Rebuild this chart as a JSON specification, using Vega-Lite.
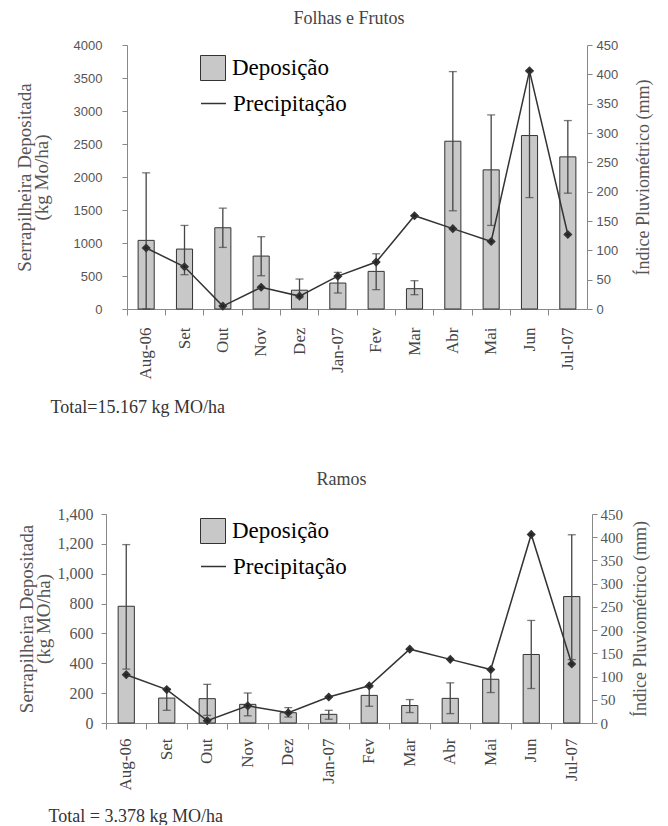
{
  "$schema": "https://vega.github.io/schema/vega-lite/v6.json",
  "padding": {"left": 15, "top": 10, "right": 5, "bottom": 0},
  "background": "white",
  "config": {"view": {"stroke": null}, "font": "Liberation Serif"},
  "spacing": 55,
  "resolve": {"scale": {"fill": "independent", "stroke": "independent"}},
  "vconcat": [
    {
      "title": {"text": "Folhas e Frutos", "font": "Liberation Serif", "fontSize": 18, "fontWeight": "normal", "color": "#444", "offset": 11, "dx": -8},
      "width": 460,
      "height": 264,
      "data": {"values": [
        {"mes": "Aug-06", "dep": 1040, "lo": 0, "hi": 2063, "prec": 104},
        {"mes": "Set", "dep": 908, "lo": 520, "hi": 1266, "prec": 72},
        {"mes": "Out", "dep": 1231, "lo": 933, "hi": 1528, "prec": 5},
        {"mes": "Nov", "dep": 802, "lo": 504, "hi": 1095, "prec": 37},
        {"mes": "Dez", "dep": 285, "lo": 170, "hi": 454, "prec": 22},
        {"mes": "Jan-07", "dep": 393, "lo": 242, "hi": 555, "prec": 56},
        {"mes": "Fev", "dep": 570, "lo": 293, "hi": 837, "prec": 80},
        {"mes": "Mar", "dep": 308, "lo": 217, "hi": 429, "prec": 159},
        {"mes": "Abr", "dep": 2542, "lo": 1488, "hi": 3597, "prec": 137},
        {"mes": "Mai", "dep": 2108, "lo": 1266, "hi": 2941, "prec": 115},
        {"mes": "Jun", "dep": 2628, "lo": 1688, "hi": 3597, "prec": 406},
        {"mes": "Jul-07", "dep": 2305, "lo": 1755, "hi": 2855, "prec": 127}
      ]},
      "encoding": {
        "x": {"field": "mes", "type": "nominal", "sort": null,
          "scale": {"paddingInner": 0, "paddingOuter": 0},
          "axis": {"labelAngle": -90, "labelFont": "Liberation Serif", "labelFontSize": 17, "labelColor": "#444",
            "bandPosition": 0, "tickSize": 6, "labelPadding": 12, "domainColor": "#888", "tickColor": "#888",
            "title": "Total=15.167 kg MO/ha", "titleFont": "Liberation Serif", "titleFontSize": 18, "titleFontWeight": "normal",
            "titleColor": "#333", "titleAnchor": "start", "titleAlign": "left", "titleX": -77, "titleY": 103, "titleBaseline": "alphabetic"}}
      },
      "layer": [
        {"mark": {"type": "bar", "width": {"band": 0.42}, "stroke": "#333", "strokeWidth": 1},
         "encoding": {
           "y": {"field": "dep", "type": "quantitative", "scale": {"domain": [0, 4000]},
             "axis": {"orient": "left", "title": ["Serrapilheira Depositada", "(kg Mo/ha)"], "titleFont": "Liberation Serif", "titleFontSize": 19,
               "titleFontWeight": "normal", "titleColor": "#555", "titlePadding": 22, "titleLineHeight": 17,
               "labelFont": "Liberation Sans", "labelFontSize": 13, "labelColor": "#555",
               "values": [0, 500, 1000, 1500, 2000, 2500, 3000, 3500, 4000], "format": "d",
               "tickSize": 5, "labelPadding": 20, "grid": false, "domainColor": "#888", "tickColor": "#888"}},
           "fill": {"datum": "Deposição", "type": "nominal", "scale": {"range": ["#c8c8c8"]},
             "legend": {"orient": "none", "legendX": 73, "legendY": 10, "title": null, "symbolType": "square",
               "labelFont": "Liberation Serif", "labelFontSize": 23, "labelColor": "#000", "symbolSize": 625,
               "symbolStrokeColor": "#333", "symbolStrokeWidth": 1, "labelOffset": 6, "labelLimit": 300}}
         }},
        {"mark": {"type": "rule", "color": "#444", "strokeWidth": 1.3},
         "encoding": {"y": {"field": "lo", "type": "quantitative", "scale": {"domain": [0, 4000]}, "axis": null}, "y2": {"field": "hi"}}},
        {"mark": {"type": "tick", "color": "#444", "thickness": 1.3, "size": 8},
         "encoding": {"y": {"field": "hi", "type": "quantitative", "scale": {"domain": [0, 4000]}, "axis": null}}},
        {"mark": {"type": "tick", "color": "#444", "thickness": 1.3, "size": 8},
         "encoding": {"y": {"field": "lo", "type": "quantitative", "scale": {"domain": [0, 4000]}, "axis": null}}},
        {"mark": {"type": "line", "strokeWidth": 1.5, "point": {"shape": "diamond", "size": 40, "filled": true, "fill": "#222"}},
         "encoding": {
           "y": {"field": "prec", "type": "quantitative", "scale": {"domain": [0, 450]},
             "axis": {"orient": "right", "title": "Índice Pluviométrico (mm)", "titleFont": "Liberation Serif", "titleFontSize": 18,
               "titleFontWeight": "normal", "titleColor": "#555", "titleAngle": 270, "titlePadding": 35,
               "labelFont": "Liberation Sans", "labelFontSize": 13, "labelColor": "#555",
               "values": [0, 50, 100, 150, 200, 250, 300, 350, 400, 450],
               "tickSize": 5, "labelPadding": 4, "grid": false, "domainColor": "#888", "tickColor": "#888"}},
           "stroke": {"datum": "Precipitação", "type": "nominal", "scale": {"range": ["#333333"]},
             "legend": {"orient": "none", "legendX": 73, "legendY": 45, "title": null, "symbolType": "stroke",
               "labelFont": "Liberation Serif", "labelFontSize": 23, "labelColor": "#000", "symbolSize": 625,
               "symbolStrokeWidth": 1.5, "labelOffset": 6, "labelLimit": 300}}
         }}
      ],
      "resolve": {"scale": {"y": "independent"}}
    },
    {
      "title": {"text": "Ramos", "font": "Liberation Serif", "fontSize": 18, "fontWeight": "normal", "color": "#444", "offset": 17, "dx": -18},
      "width": 465,
      "height": 209,
      "data": {"values": [
        {"mes": "Aug-06", "dep": 782, "lo": 361, "hi": 1195, "prec": 104},
        {"mes": "Set", "dep": 167, "lo": 85, "hi": 230, "prec": 72},
        {"mes": "Out", "dep": 163, "lo": 51, "hi": 259, "prec": 5},
        {"mes": "Nov", "dep": 125, "lo": 48, "hi": 201, "prec": 37},
        {"mes": "Dez", "dep": 69, "lo": 40, "hi": 103, "prec": 22},
        {"mes": "Jan-07", "dep": 58, "lo": 25, "hi": 85, "prec": 56},
        {"mes": "Fev", "dep": 185, "lo": 112, "hi": 241, "prec": 80},
        {"mes": "Mar", "dep": 117, "lo": 70, "hi": 157, "prec": 159},
        {"mes": "Abr", "dep": 165, "lo": 63, "hi": 269, "prec": 137},
        {"mes": "Mai", "dep": 293, "lo": 204, "hi": 358, "prec": 115},
        {"mes": "Jun", "dep": 459, "lo": 231, "hi": 687, "prec": 406},
        {"mes": "Jul-07", "dep": 847, "lo": 425, "hi": 1261, "prec": 127}
      ]},
      "encoding": {
        "x": {"field": "mes", "type": "nominal", "sort": null,
          "scale": {"paddingInner": 0, "paddingOuter": 0, "range": [-21, 465]},
          "axis": {"labelAngle": -90, "labelFont": "Liberation Serif", "labelFontSize": 17, "labelColor": "#444",
            "bandPosition": 0, "tickSize": 6, "labelPadding": 9, "domainColor": "#888", "tickColor": "#888",
            "title": "Total = 3.378 kg MO/ha", "titleFont": "Liberation Serif", "titleFontSize": 18, "titleFontWeight": "normal",
            "titleColor": "#333", "titleAnchor": "start", "titleAlign": "left", "titleX": -79, "titleY": 98, "titleBaseline": "alphabetic"}}
      },
      "layer": [
        {"mark": {"type": "bar", "width": {"band": 0.4}, "stroke": "#333", "strokeWidth": 1},
         "encoding": {
           "y": {"field": "dep", "type": "quantitative", "scale": {"domain": [0, 1400]},
             "axis": {"orient": "left", "offset": 21, "title": ["Serrapilheira Depositada", "(kg MO/ha)"], "titleFont": "Liberation Serif", "titleFontSize": 19,
               "titleFontWeight": "normal", "titleColor": "#555", "titlePadding": 4, "titleLineHeight": 17,
               "labelFont": "Liberation Serif", "labelFontSize": 16, "labelColor": "#555",
               "values": [0, 200, 400, 600, 800, 1000, 1200, 1400], "format": ",d",
               "tickSize": 5, "labelPadding": 8, "grid": false, "domainColor": "#888", "tickColor": "#888"}},
           "fill": {"datum": "Deposição", "type": "nominal", "scale": {"range": ["#c8c8c8"]},
             "legend": {"orient": "none", "legendX": 73, "legendY": 4, "title": null, "symbolType": "square",
               "labelFont": "Liberation Serif", "labelFontSize": 23, "labelColor": "#000", "symbolSize": 625,
               "symbolStrokeColor": "#333", "symbolStrokeWidth": 1, "labelOffset": 6, "labelLimit": 300}}
         }},
        {"mark": {"type": "rule", "color": "#444", "strokeWidth": 1.3},
         "encoding": {"y": {"field": "lo", "type": "quantitative", "scale": {"domain": [0, 1400]}, "axis": null}, "y2": {"field": "hi"}}},
        {"mark": {"type": "tick", "color": "#444", "thickness": 1.3, "size": 8},
         "encoding": {"y": {"field": "hi", "type": "quantitative", "scale": {"domain": [0, 1400]}, "axis": null}}},
        {"mark": {"type": "tick", "color": "#444", "thickness": 1.3, "size": 8},
         "encoding": {"y": {"field": "lo", "type": "quantitative", "scale": {"domain": [0, 1400]}, "axis": null}}},
        {"mark": {"type": "line", "strokeWidth": 1.5, "point": {"shape": "diamond", "size": 40, "filled": true, "fill": "#222"}},
         "encoding": {
           "y": {"field": "prec", "type": "quantitative", "scale": {"domain": [0, 450]},
             "axis": {"orient": "right", "title": "Índice Pluviométrico (mm)", "titleFont": "Liberation Serif", "titleFontSize": 18,
               "titleFontWeight": "normal", "titleColor": "#555", "titleAngle": 270, "titlePadding": 27,
               "labelFont": "Liberation Serif", "labelFontSize": 15, "labelColor": "#555",
               "values": [0, 50, 100, 150, 200, 250, 300, 350, 400, 450],
               "tickSize": 5, "labelPadding": 3, "grid": false, "domainColor": "#888", "tickColor": "#888"}},
           "stroke": {"datum": "Precipitação", "type": "nominal", "scale": {"range": ["#333333"]},
             "legend": {"orient": "none", "legendX": 73, "legendY": 39, "title": null, "symbolType": "stroke",
               "labelFont": "Liberation Serif", "labelFontSize": 23, "labelColor": "#000", "symbolSize": 625,
               "symbolStrokeWidth": 1.5, "labelOffset": 6, "labelLimit": 300}}
         }}
      ],
      "resolve": {"scale": {"y": "independent"}}
    }
  ]
}
